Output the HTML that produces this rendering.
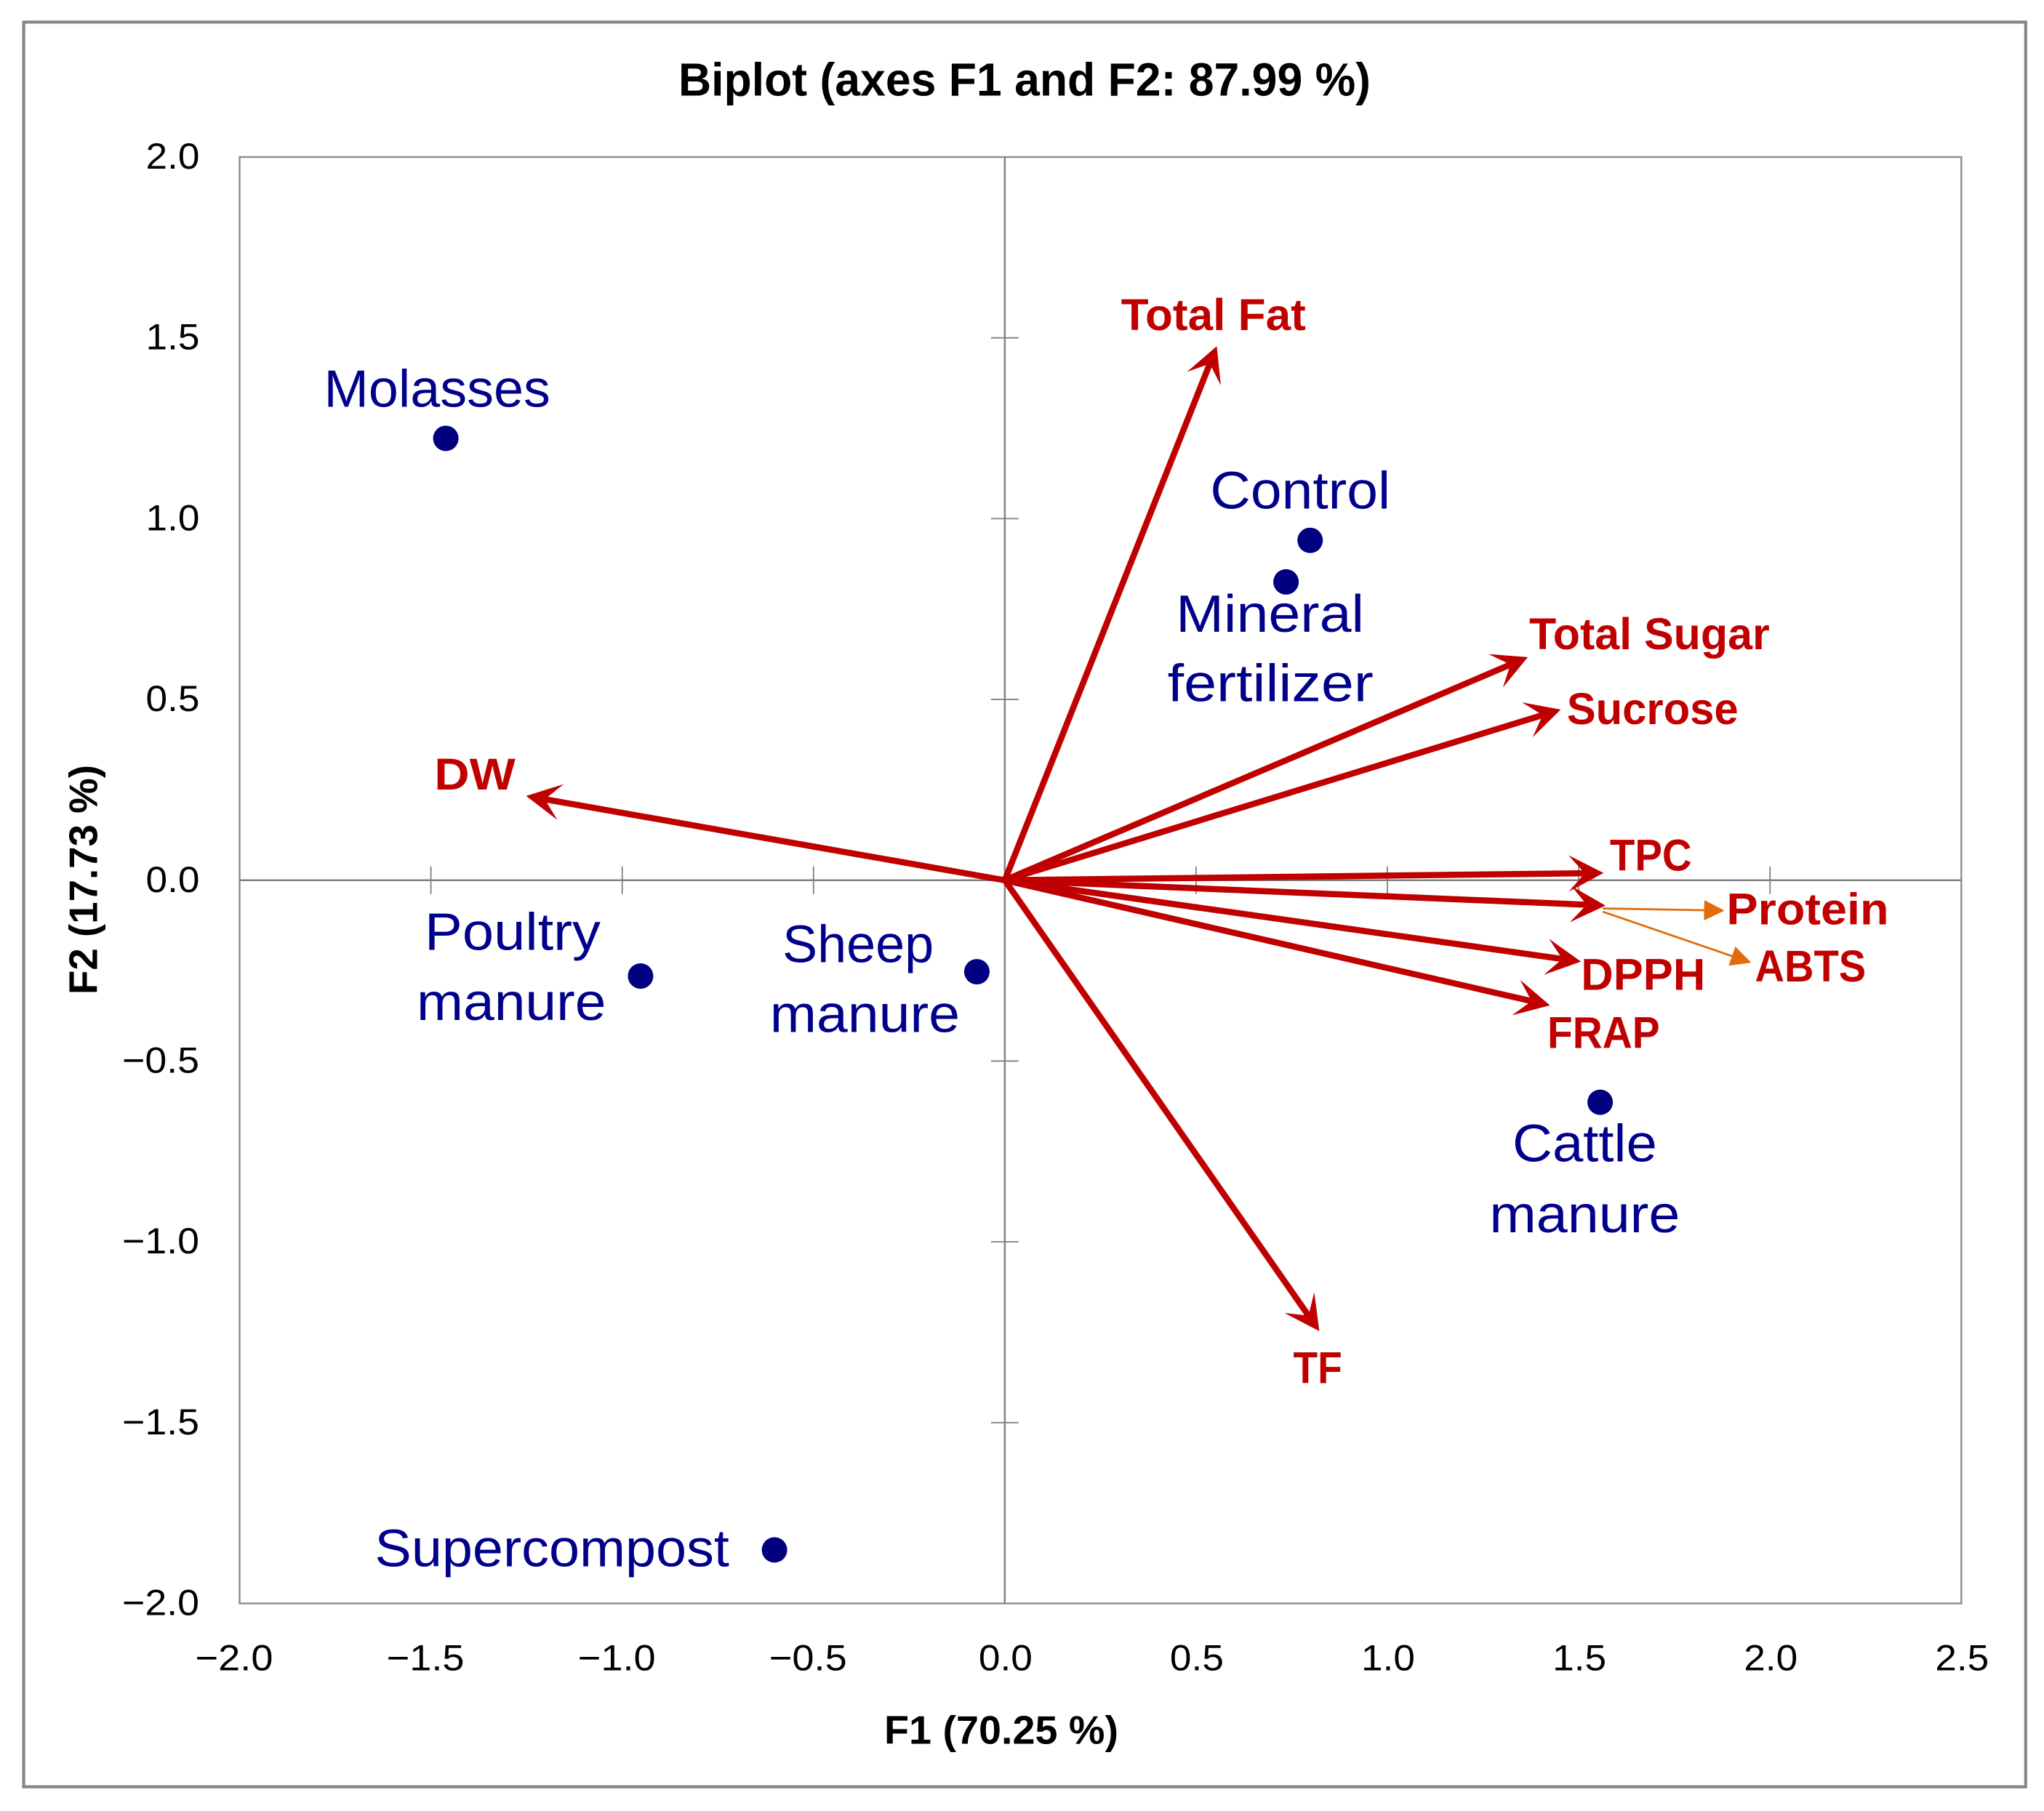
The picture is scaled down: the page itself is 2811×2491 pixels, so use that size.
<!DOCTYPE html>
<html lang="en">
<head>
<meta charset="utf-8">
<title>Biplot (axes F1 and F2: 87.99 %)</title>
<style>
html,body{margin:0;padding:0;background:#fff;}
svg{display:block;}
text{font-family:"Liberation Sans",sans-serif;}
</style>
</head>
<body>
<svg id="chart" xmlns="http://www.w3.org/2000/svg" width="2811" height="2491" viewBox="0 0 2811 2491">
  <rect x="0" y="0" width="2811" height="2491" fill="#ffffff"/>
  <rect x="32.6" y="30.4" width="2753.2" height="2427.3" fill="#ffffff" stroke="#868686" stroke-width="4.2"/>
  <text x="933" y="131.7" font-size="64" font-weight="700" fill="#000" textLength="952" lengthAdjust="spacingAndGlyphs">Biplot (axes F1 and F2: 87.99 %)</text>
  <text x="1216" y="2398.5" font-size="55" font-weight="700" fill="#000" textLength="322" lengthAdjust="spacingAndGlyphs">F1 (70.25 %)</text>
  <text x="133.3" y="1368" transform="rotate(-90 133.3 1368)" font-size="55" font-weight="700" fill="#000" textLength="316" lengthAdjust="spacingAndGlyphs">F2 (17.73 %)</text>
  <rect x="329.5" y="216" width="2367.8" height="1989.5" fill="none" stroke="#8c8c8c" stroke-width="2.4"/>
  <g id="axes"></g>
  <g id="marks"></g>
  <g id="labels"></g>
</svg>
<script>
const xTicks = [-2, -1.5, -1, -0.5, 0, 0.5, 1, 1.5, 2, 2.5];
const yTicks = [2, 1.5, 1, 0.5, 0, -0.5, -1, -1.5, -2];

const vectorNames = ['Total Fat', 'Total Sugar', 'Sucrose', 'TPC', 'Protein-ABTS', 'DPPH', 'FRAP', 'TF', 'DW'];
const vectorF1 = [0.554, 1.367, 1.453, 1.565, 1.570, 1.506, 1.425, 0.822, -1.251];
const vectorF2 = [1.477, 0.617, 0.472, 0.020, -0.070, -0.225, -0.346, -1.247, 0.233];

const leaderNames = ['Protein', 'ABTS'];
const leaderStartF1 = [1.563, 1.563];
const leaderStartF2 = [-0.078, -0.087];
const leaderEndF1 = [1.881, 1.951];
const leaderEndF2 = [-0.084, -0.228];

const pointNames = ['Molasses', 'Control', 'Mineral fertilizer', 'Poultry manure', 'Sheep manure', 'Cattle manure', 'Supercompost'];
const pointF1 = [-1.461, 0.798, 0.735, -0.952, -0.073, 1.556, -0.602];
const pointF2 = [1.222, 0.940, 0.825, -0.265, -0.253, -0.614, -1.852];

const NS = 'http://www.w3.org/2000/svg';
const plotLeft = 329.5, plotRight = 2697.3, plotTop = 216, plotBottom = 2205.5;
const xMin = -2, xMax = 2.5, yMin = -2, yMax = 2;
function sx(v) { return plotLeft + (v - xMin) / (xMax - xMin) * (plotRight - plotLeft); }
function sy(v) { return plotBottom - (v - yMin) / (yMax - yMin) * (plotBottom - plotTop); }
function slug(s) { return s.toLowerCase().replace(/[^a-z0-9]+/g, '-'); }
function fmt(v) { return v.toFixed(1).replace('-', '\u2212'); }

const axesG = document.getElementById('axes');
const marksG = document.getElementById('marks');
const labelsG = document.getElementById('labels');

function make(tag, parent, props) {
  const n = document.createElementNS(NS, tag);
  for (const k in props) n.setAttribute(k, props[k]);
  parent.appendChild(n);
  return n;
}
function drawText(str, x, y, w, size, weight, fill, name) {
  const t = make('text', labelsG, { x: x, y: y, 'font-size': size, 'font-weight': weight, fill: fill, textLength: w, lengthAdjust: 'spacingAndGlyphs' });
  t.textContent = str;
  
  
  return t;
}

/* axes through the origin */
const xAxisLine = make('line', axesG, { x1: plotLeft, x2: plotRight, y1: sy(0), y2: sy(0), stroke: '#7f7f7f', 'stroke-width': 2.4 });


const yAxisLine = make('line', axesG, { x1: sx(0), x2: sx(0), y1: plotTop, y2: plotBottom, stroke: '#7f7f7f', 'stroke-width': 2.4 });



xTicks.forEach(function (v) {
  if (v !== xMin && v !== xMax && v !== 0) {
    const tick = make('line', axesG, { x1: sx(v), x2: sx(v), y1: sy(0) - 19, y2: sy(0) + 19, stroke: '#7f7f7f', 'stroke-width': 1.8 });
    
    
  }
  const neg = v < 0;
  drawText(fmt(v), sx(v) - (neg ? 61 : 36), 2297.7, neg ? 107 : 74, 50, 400, '#000', 'x-tick-label-' + slug(fmt(v).replace('\u2212', 'minus ')));
});
yTicks.forEach(function (v) {
  if (v !== yMin && v !== yMax && v !== 0) {
    const tick = make('line', axesG, { x1: sx(0) - 19, x2: sx(0) + 19, y1: sy(v), y2: sy(v), stroke: '#7f7f7f', 'stroke-width': 1.8 });
    
    
  }
  const neg = v < 0;
  drawText(fmt(v), neg ? 168 : 200.5, sy(v) + 16, neg ? 106 : 74, 50, 400, '#000', 'y-tick-label-' + slug(fmt(v).replace('\u2212', 'minus ')));
});

/* loading vectors */
function headPoints(x0, y0, x1, y1, len, half, notch) {
  const d = Math.hypot(x1 - x0, y1 - y0) || 1;
  const ux = (x1 - x0) / d, uy = (y1 - y0) / d;
  const px = -uy, py = ux;
  const bx = x1 - ux * len, by = y1 - uy * len;
  const nx = x1 - ux * notch, ny = y1 - uy * notch;
  return {
    nx: nx, ny: ny,
    pts: [x1, y1, bx + px * half, by + py * half, nx, ny, bx - px * half, by - py * half].join(',')
  };
}
vectorNames.forEach(function (name, i) {
  const x0 = sx(0), y0 = sy(0), x1 = sx(vectorF1[i]), y1 = sy(vectorF2[i]);
  const h = headPoints(x0, y0, x1, y1, 48, 25, 26);
  const shaft = make('line', marksG, { x1: x0, y1: y0, x2: h.nx, y2: h.ny, stroke: '#C00000', 'stroke-width': 8.5 });
  
  
  const head = make('polygon', marksG, { points: h.pts, fill: '#C00000' });
  
  
});

/* orange leader arrows */
leaderNames.forEach(function (name, i) {
  const x0 = sx(leaderStartF1[i]), y0 = sy(leaderStartF2[i]), x1 = sx(leaderEndF1[i]), y1 = sy(leaderEndF2[i]);
  const h = headPoints(x0, y0, x1, y1, 28, 14, 28);
  const shaft = make('line', marksG, { x1: x0, y1: y0, x2: h.nx, y2: h.ny, stroke: '#E36C0A', 'stroke-width': 2.8 });
  
  
  const head = make('polygon', marksG, { points: h.pts, fill: '#E36C0A' });
  
  
});

/* observation points */
pointNames.forEach(function (name, i) {
  const c = make('circle', marksG, { cx: sx(pointF1[i]), cy: sy(pointF2[i]), r: 17.5, fill: '#000080' });
  
  
});

/* labels placed relative to their marks */
function pointLabel(i, str, dx, dy, w) {
  drawText(str, sx(pointF1[i]) + dx, sy(pointF2[i]) + dy, w, 72, 400, '#00008B', 'point-label-' + slug(str));
}
function vectorLabel(i, str, dx, dy, w) {
  drawText(str, sx(vectorF1[i]) + dx, sy(vectorF2[i]) + dy, w, 61, 700, '#C00000', 'vector-label-' + slug(str));
}
function leaderLabel(i, str, dx, dy, w) {
  drawText(str, sx(leaderEndF1[i]) + dx, sy(leaderEndF2[i]) + dy, w, 61, 700, '#C00000', 'vector-label-' + slug(str));
}
pointLabel(0, 'Molasses', -167.6, -43.4, 311.3);
pointLabel(1, 'Control', -137.3, -43.5, 247.6);
pointLabel(2, 'Mineral', -151.5, 68.6, 259);
pointLabel(2, 'fertilizer', -163, 164.2, 283.2);
pointLabel(3, 'Poultry', -296.9, -36, 241.9);
pointLabel(3, 'manure', -307.9, 60.6, 260.4);
pointLabel(4, 'Sheep', -267.3, -13, 208);
pointLabel(4, 'manure', -284.7, 82.7, 261.3);
pointLabel(5, 'Cattle', -120.6, 81.3, 198.8);
pointLabel(5, 'manure', -152.2, 179, 262);
pointLabel(6, 'Supercompost', -549.7, 22.6, 487.5);

vectorLabel(0, 'Total Fat', -131.7, -22, 254.2);
vectorLabel(1, 'Total Sugar', 1.9, -10.7, 330.7);
vectorLabel(2, 'Sucrose', 8.3, 20, 236);
vectorLabel(3, 'TPC', 8.6, -3.3, 112.7);
vectorLabel(5, 'DPPH', 0, 38.6, 171);
vectorLabel(6, 'FRAP', -3.6, 58.6, 154.6);
vectorLabel(7, 'TF', -35.9, 71.3, 67.2);
vectorLabel(8, 'DW', -126.3, -8.7, 111.6);
leaderLabel(0, 'Protein', 2.8, 19, 223.2);
leaderLabel(1, 'ABTS', 5.1, 25.7, 152.6);
</script>
</body>
</html>
